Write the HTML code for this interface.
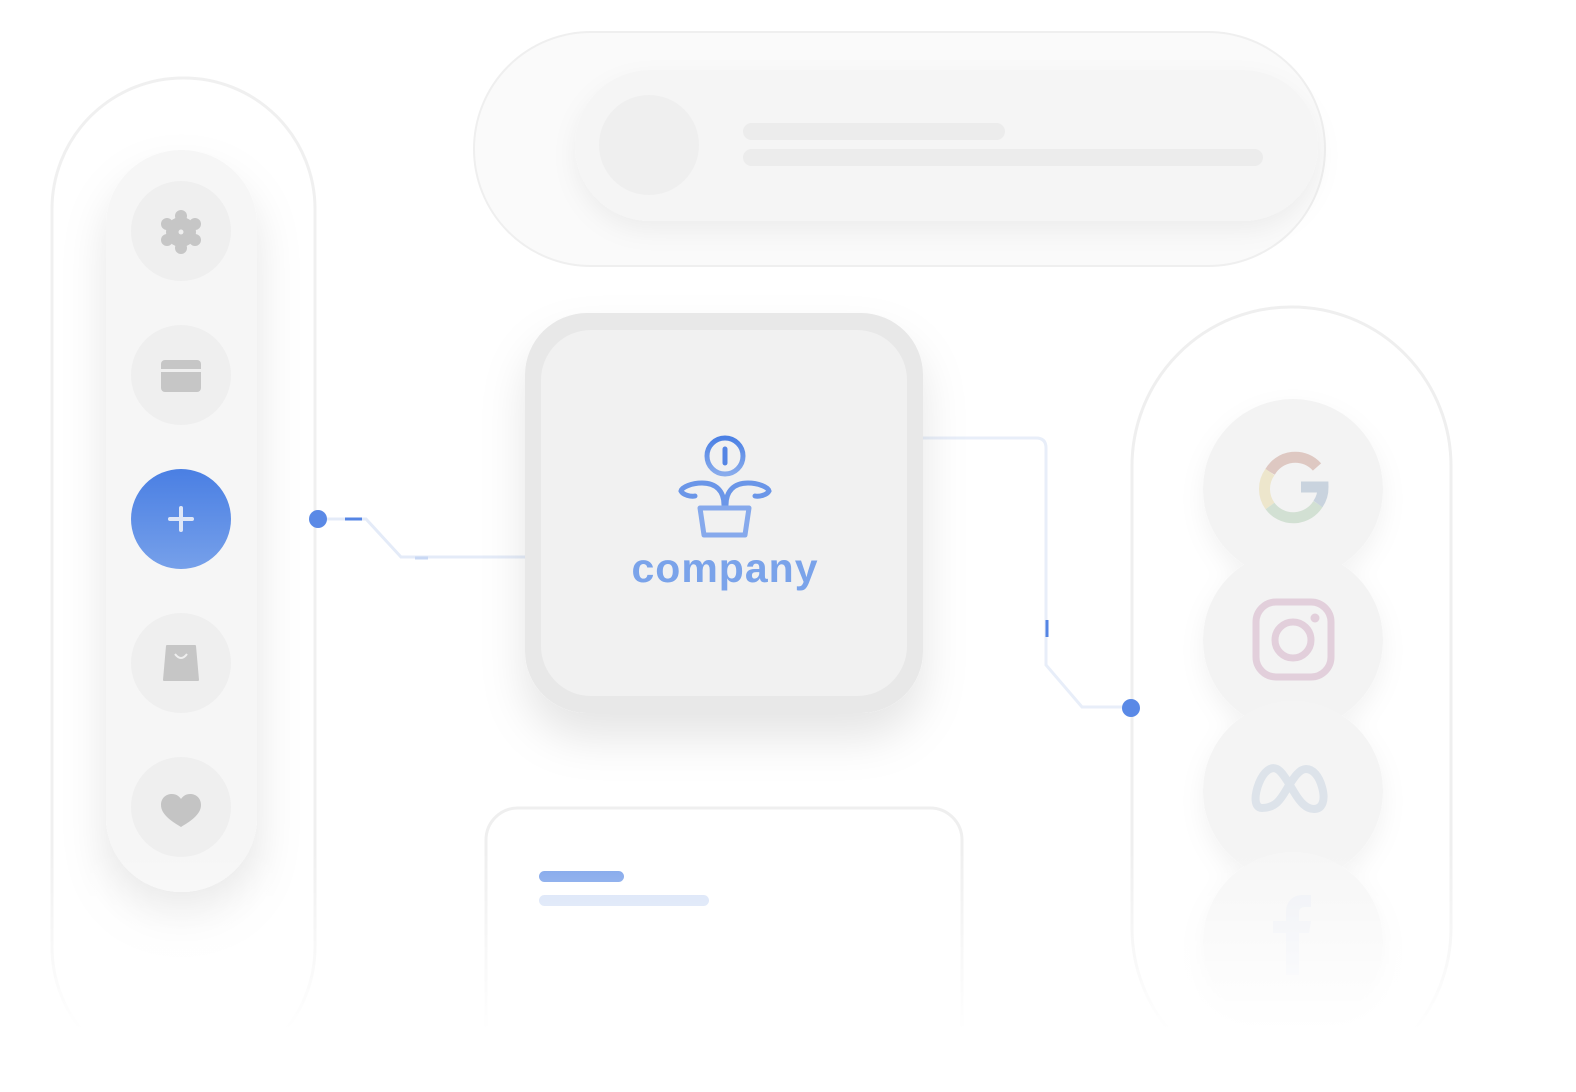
<!DOCTYPE html>
<html><head><meta charset="utf-8"><style>
html,body{margin:0;padding:0;background:#fff;width:1576px;height:1092px;overflow:hidden}
</style></head><body>
<svg width="1576" height="1092" viewBox="0 0 1576 1092" xmlns="http://www.w3.org/2000/svg" font-family="Liberation Sans, sans-serif">
<defs>
<filter id="sh" x="-30%" y="-30%" width="160%" height="170%"><feDropShadow dx="0" dy="25" stdDeviation="22" flood-color="#000" flood-opacity="0.10"/></filter>
<filter id="sh2" x="-30%" y="-30%" width="160%" height="160%"><feDropShadow dx="0" dy="10" stdDeviation="12" flood-color="#000" flood-opacity="0.05"/></filter>
<linearGradient id="blue" x1="0" y1="0" x2="0" y2="1"><stop offset="0" stop-color="#4a7fe3"/><stop offset="1" stop-color="#76a0ea"/></linearGradient>
<linearGradient id="fade" x1="0" y1="0" x2="0" y2="1"><stop offset="0" stop-color="#fff" stop-opacity="0"/><stop offset="0.75" stop-color="#fff" stop-opacity="1"/><stop offset="1" stop-color="#fff" stop-opacity="1"/></linearGradient>
<linearGradient id="logo" x1="0" y1="0" x2="0" y2="1"><stop offset="0" stop-color="#4b80e4"/><stop offset="1" stop-color="#88abec"/></linearGradient>
</defs>

<rect x="52" y="78" width="263" height="1000" rx="131" fill="#fff" stroke="#f0f0f0" stroke-width="3"/>
<rect x="106" y="150" width="151" height="742" rx="75" fill="#f6f6f6" filter="url(#sh)"/>
<circle cx="181" cy="231" r="50" fill="#efefef"/>
<circle cx="181" cy="375" r="50" fill="#efefef"/>
<circle cx="181" cy="519" r="50" fill="url(#blue)"/>
<circle cx="181" cy="663" r="50" fill="#efefef"/>
<circle cx="181" cy="807" r="50" fill="#efefef"/>
<g fill="#c6c6c6"><circle cx="181" cy="232" r="15"/><circle cx="181" cy="216" r="6"/><circle cx="181" cy="248" r="6"/><circle cx="167" cy="224" r="6"/><circle cx="195" cy="224" r="6"/><circle cx="167" cy="240" r="6"/><circle cx="195" cy="240" r="6"/></g>
<circle cx="181" cy="232" r="2.5" fill="#efefef"/>
<rect x="161" y="360" width="40" height="32" rx="4" fill="#c6c6c6"/><rect x="161" y="369" width="40" height="3" fill="#efefef"/>
<path d="M181 508v22M170 519h22" stroke="#dfe7f7" stroke-width="4" stroke-linecap="round"/>
<path d="M167 646h28l3 34h-34z" fill="#c6c6c6" stroke="#c6c6c6" stroke-width="2" stroke-linejoin="round"/>
<path d="M175 654q6 8 12 0" stroke="#efefef" stroke-width="2" fill="none"/>
<path d="M181 827c-8-5-20-12-20-22 0-7 5-11 11-11 4 0 7 2 9 5 2-3 5-5 9-5 6 0 11 4 11 11 0 10-12 17-20 22z" fill="#c4c4c4"/>

<rect x="474" y="32" width="851" height="234" rx="117" fill="#fafafa" stroke="#efefef" stroke-width="2"/>
<rect x="575" y="70" width="743" height="151" rx="75" fill="#f5f5f5" filter="url(#sh2)"/>
<circle cx="649" cy="145" r="50" fill="#efefef"/>
<rect x="743" y="123" width="262" height="17" rx="8.5" fill="#ececec"/>
<rect x="743" y="149" width="520" height="17" rx="8.5" fill="#ececec"/>

<path d="M318 519H366L401 557H525" fill="none" stroke="#e4ebf8" stroke-width="3"/>
<path d="M345 519H362" stroke="#5585e4" stroke-width="3"/>
<path d="M415 558H428" stroke="#c9d8f4" stroke-width="3"/>
<circle cx="318" cy="519" r="9" fill="#5a89e6"/>
<path d="M923 438H1036Q1046 438 1046 448V665L1082 707H1131" fill="none" stroke="#e8eef9" stroke-width="3"/>
<path d="M1047 620V637" stroke="#5585e4" stroke-width="3"/>

<rect x="1132" y="307" width="319" height="780" rx="159" fill="#fff" stroke="#efefef" stroke-width="3"/>
<circle cx="1131" cy="708" r="9" fill="#5a89e6"/>
<g filter="url(#sh2)">
<circle cx="1293" cy="489" r="90" fill="#f3f3f3"/>
<circle cx="1293" cy="640" r="90" fill="#f3f3f3"/>
<circle cx="1293" cy="791" r="90" fill="#f4f4f4"/>
<circle cx="1293" cy="942" r="90" fill="#f6f6f6"/>
</g>
<g fill="none" stroke-width="11">
<path d="M1317 467A29 29 0 0 0 1270 472" stroke="#dec8c2"/>
<path d="M1270 472A29 29 0 0 0 1270 506" stroke="#ede6cc"/>
<path d="M1270 506A29 29 0 0 0 1318 504" stroke="#d2e0d3"/>
<path d="M1318 504A29 29 0 0 0 1323 487H1301" stroke="#c9d3de"/>
</g>
<rect x="1256" y="602" width="75" height="75" rx="20" fill="none" stroke="#e2cfdb" stroke-width="7"/>
<circle cx="1293" cy="640" r="18" fill="none" stroke="#e2cfdb" stroke-width="7"/>
<circle cx="1315" cy="618" r="4.5" fill="#e2cfdb"/>
<path d="M1262 808c-8 0-8-12-3-25 5-12 12-17 18-14 6 3 12 15 17 23 6 10 12 17 20 17 8 0 12-8 8-22-3-11-9-18-16-18-7 0-13 10-18 18-6 10-11 21-26 21z" fill="none" stroke="#dde3ea" stroke-width="8"/>
<path d="M1286 975V933h-13v-12h13v-8c0-12 7-18 17-18h8v12h-6c-5 0-6 3-6 6v8h12l-2 12h-10v42z" fill="#eef0f5"/>

<rect x="525" y="313" width="398" height="400" rx="62" fill="#e8e8e8" filter="url(#sh)"/>
<rect x="541" y="330" width="366" height="366" rx="50" fill="#f1f1f1"/>
<circle cx="725" cy="456" r="18" fill="none" stroke="url(#logo)" stroke-width="5"/>
<path d="M725 449v14" stroke="#5585e4" stroke-width="5" stroke-linecap="round"/>
<g fill="none" stroke="#6b96e8" stroke-width="5" stroke-linecap="round">
<path d="M724 505c0-14-8-22-22-22-10 0-20 4-21 8 2 4 10 6 14 5"/>
<path d="M726 505c0-14 8-22 22-22 10 0 20 4 21 8-2 4-10 6-14 5"/>
<path d="M700 508h49l-4 27h-41z" stroke="#86a9ec" stroke-linejoin="round"/>
</g>
<text x="725" y="582" text-anchor="middle" font-size="41" font-weight="bold" fill="#7aa3ea" letter-spacing="1">company</text>

<rect x="486" y="808" width="476" height="300" rx="32" fill="#fff" stroke="#efefef" stroke-width="3"/>
<rect x="539" y="871" width="85" height="11" rx="5.5" fill="#7ba2ea"/>
<rect x="539" y="895" width="170" height="11" rx="5.5" fill="#d5e1f7"/>

<rect x="0" y="850" width="1576" height="242" fill="url(#fade)"/>
</svg>
</body></html>
